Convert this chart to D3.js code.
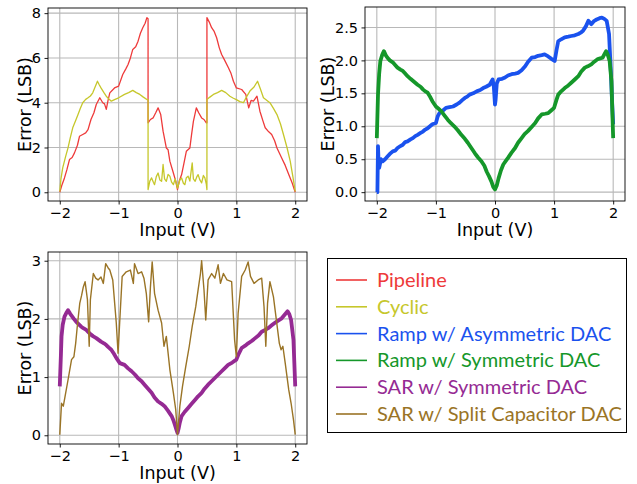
<!DOCTYPE html>
<html>
<head>
<meta charset="utf-8">
<script src="https://cdn.jsdelivr.net/npm/d3@7"></script>
<style>
  body { margin: 0; background: #fff; }
  text { font-family: "DejaVu Sans", sans-serif; }
</style>
</head>
<body>
<script>
// ---- data (x = input in V, y = error in LSB) ----
const xTicks = [-2, -1, 0, 1, 2];
const yTicksTop = [0, 2, 4, 6, 8];
const yTicksRamp = [0, 0.5, 1.0, 1.5, 2.0, 2.5];
const yTicksSar = [0, 1, 2, 3];

const pipeline = [[-2,0],[-1.96,0.35],[-1.92,0.64],[-1.88,1.0],[-1.835,1.46],[-1.79,1.55],[-1.75,1.76],[-1.7,2.1],[-1.665,2.5],[-1.61,2.58],[-1.56,2.65],[-1.52,2.8],[-1.47,3.25],[-1.42,3.55],[-1.38,3.92],[-1.32,4.22],[-1.27,4.0],[-1.24,3.95],[-1.21,3.7],[-1.18,4.1],[-1.15,4.44],[-1.07,4.66],[-1.0,4.74],[-0.93,5.26],[-0.88,5.5],[-0.84,5.71],[-0.8,6.0],[-0.76,6.38],[-0.71,6.5],[-0.67,6.75],[-0.63,7.1],[-0.59,7.35],[-0.55,7.55],[-0.52,7.8],[-0.5,7.75],[-0.5,3.1],[-0.46,3.25],[-0.415,3.32],[-0.37,3.55],[-0.33,3.77],[-0.285,3.47],[-0.245,2.73],[-0.19,1.98],[-0.16,1.9],[-0.13,1.39],[-0.07,0.86],[-0.03,0.5],[0,0.12],[0.03,0.5],[0.07,0.79],[0.11,1.3],[0.15,1.83],[0.21,1.98],[0.24,2.6],[0.27,3.17],[0.32,3.77],[0.36,3.55],[0.41,3.32],[0.45,3.25],[0.49,3.1],[0.5,3.1],[0.5,7.8],[0.54,7.6],[0.58,7.35],[0.62,7.2],[0.665,6.9],[0.71,6.45],[0.75,6.15],[0.8,5.9],[0.865,5.56],[0.91,5.3],[0.95,4.96],[1.0,4.66],[1.09,4.59],[1.16,4.37],[1.21,3.77],[1.25,4.1],[1.29,4.07],[1.35,4.29],[1.4,3.62],[1.45,3.2],[1.49,2.88],[1.55,2.7],[1.6,2.58],[1.65,2.3],[1.69,1.98],[1.73,1.75],[1.77,1.53],[1.83,1.2],[1.89,0.79],[1.95,0.4],[2.0,0]];

const cyclic = [[-2,0.04],[-1.98,0.6],[-1.95,1.09],[-1.9,1.6],[-1.86,1.98],[-1.82,2.45],[-1.78,2.88],[-1.73,3.2],[-1.69,3.47],[-1.65,3.75],[-1.61,4.0],[-1.56,4.15],[-1.52,4.22],[-1.48,4.3],[-1.44,4.44],[-1.4,4.7],[-1.36,4.96],[-1.33,4.8],[-1.3,4.66],[-1.25,4.45],[-1.21,4.29],[-1.16,4.15],[-1.125,4.07],[-1.06,4.15],[-1.0,4.22],[-0.9,4.37],[-0.83,4.45],[-0.76,4.55],[-0.7,4.45],[-0.64,4.37],[-0.58,4.25],[-0.52,4.14],[-0.5,4.14],[-0.5,0.12],[-0.47,0.5],[-0.44,0.64],[-0.41,0.45],[-0.39,0.34],[-0.36,0.7],[-0.33,0.86],[-0.3,0.55],[-0.27,0.49],[-0.245,1.24],[-0.22,0.6],[-0.19,0.49],[-0.16,0.8],[-0.13,0.72],[-0.1,0.45],[-0.07,0.34],[-0.04,0.6],[0,0.19],[0.04,0.55],[0.07,0.64],[0.1,0.4],[0.125,0.34],[0.15,0.65],[0.18,0.72],[0.21,0.5],[0.25,1.31],[0.27,0.6],[0.3,0.49],[0.33,0.7],[0.35,0.79],[0.38,0.55],[0.41,0.42],[0.44,0.75],[0.465,0.64],[0.49,0.35],[0.5,0.12],[0.5,4.14],[0.55,4.25],[0.61,4.37],[0.68,4.45],[0.75,4.55],[0.82,4.45],[0.89,4.29],[0.95,4.2],[1.0,4.14],[1.06,4.05],[1.12,4.0],[1.17,4.25],[1.23,4.52],[1.3,4.7],[1.36,4.96],[1.41,4.6],[1.46,4.22],[1.52,4.1],[1.57,4.0],[1.63,3.75],[1.69,3.47],[1.75,3.05],[1.8,2.58],[1.86,2.0],[1.915,1.39],[1.96,0.7],[2.0,0.04]];

const rampAsym = [[-2,0.0],[-1.99,0.0],[-1.98,0.7],[-1.97,0.45],[-1.96,0.37],[-1.93,0.5],[-1.9,0.47],[-1.86,0.5],[-1.82,0.54],[-1.78,0.58],[-1.73,0.62],[-1.69,0.63],[-1.65,0.67],[-1.6,0.7],[-1.56,0.72],[-1.52,0.76],[-1.48,0.77],[-1.43,0.8],[-1.39,0.82],[-1.35,0.85],[-1.31,0.87],[-1.26,0.9],[-1.22,0.92],[-1.18,0.95],[-1.14,0.97],[-1.1,1.0],[-1.06,1.03],[-1.0,1.05],[-0.97,1.15],[-0.94,1.2],[-0.88,1.24],[-0.83,1.28],[-0.77,1.29],[-0.71,1.3],[-0.65,1.33],[-0.6,1.36],[-0.55,1.4],[-0.51,1.43],[-0.47,1.45],[-0.43,1.48],[-0.37,1.5],[-0.31,1.53],[-0.25,1.55],[-0.2,1.58],[-0.15,1.6],[-0.09,1.63],[-0.04,1.71],[-0.02,1.6],[0,1.33],[0.01,1.4],[0.03,1.65],[0.06,1.71],[0.12,1.72],[0.17,1.74],[0.22,1.77],[0.28,1.79],[0.34,1.8],[0.39,1.81],[0.45,1.85],[0.51,1.91],[0.56,1.98],[0.62,2.04],[0.68,2.05],[0.73,2.07],[0.79,2.08],[0.84,2.09],[0.9,2.06],[0.96,2.02],[1.01,1.99],[1.04,2.15],[1.07,2.29],[1.12,2.32],[1.18,2.35],[1.24,2.36],[1.29,2.37],[1.35,2.38],[1.41,2.4],[1.45,2.42],[1.49,2.45],[1.54,2.52],[1.58,2.6],[1.63,2.55],[1.68,2.6],[1.72,2.62],[1.77,2.64],[1.81,2.65],[1.85,2.63],[1.89,2.6],[1.93,2.4],[1.96,1.84],[1.98,1.4],[2.0,1.03]];

const rampSym = [[-2,0.82],[-1.98,1.48],[-1.96,1.8],[-1.94,1.99],[-1.91,2.08],[-1.88,2.14],[-1.85,2.08],[-1.82,2.04],[-1.78,2.0],[-1.73,1.97],[-1.69,1.93],[-1.65,1.89],[-1.6,1.86],[-1.56,1.84],[-1.52,1.8],[-1.48,1.76],[-1.43,1.72],[-1.39,1.69],[-1.35,1.66],[-1.31,1.63],[-1.26,1.6],[-1.22,1.56],[-1.18,1.53],[-1.14,1.51],[-1.1,1.45],[-1.06,1.38],[-1.0,1.3],[-0.96,1.27],[-0.91,1.23],[-0.86,1.17],[-0.8,1.1],[-0.75,1.05],[-0.69,1.0],[-0.63,0.94],[-0.57,0.87],[-0.51,0.81],[-0.46,0.75],[-0.4,0.67],[-0.34,0.59],[-0.29,0.53],[-0.23,0.47],[-0.18,0.4],[-0.14,0.31],[-0.1,0.24],[-0.06,0.16],[-0.03,0.08],[0,0.04],[0.03,0.1],[0.06,0.21],[0.1,0.33],[0.14,0.42],[0.18,0.47],[0.22,0.52],[0.28,0.6],[0.34,0.67],[0.39,0.75],[0.45,0.82],[0.5,0.88],[0.56,0.93],[0.62,0.99],[0.68,1.05],[0.73,1.12],[0.79,1.18],[0.85,1.19],[0.9,1.2],[0.95,1.24],[1.0,1.28],[1.04,1.4],[1.07,1.48],[1.12,1.53],[1.18,1.58],[1.24,1.62],[1.29,1.66],[1.35,1.71],[1.41,1.76],[1.46,1.83],[1.52,1.89],[1.57,1.91],[1.63,1.94],[1.68,1.98],[1.74,2.02],[1.78,2.03],[1.82,2.04],[1.85,2.09],[1.88,2.14],[1.91,2.08],[1.94,1.99],[1.97,1.69],[1.99,1.1],[2.0,0.82]];

const sarSym = [[-2,0.84],[-1.98,1.4],[-1.97,1.7],[-1.95,1.9],[-1.92,2.04],[-1.89,2.1],[-1.86,2.15],[-1.83,2.1],[-1.81,2.07],[-1.76,2.0],[-1.72,1.95],[-1.68,1.91],[-1.64,1.87],[-1.6,1.84],[-1.55,1.81],[-1.51,1.77],[-1.47,1.73],[-1.43,1.7],[-1.38,1.67],[-1.34,1.64],[-1.3,1.61],[-1.25,1.58],[-1.21,1.55],[-1.17,1.51],[-1.125,1.47],[-1.08,1.4],[-1.04,1.33],[-0.98,1.24],[-0.9,1.21],[-0.84,1.15],[-0.78,1.1],[-0.72,1.04],[-0.67,0.98],[-0.61,0.93],[-0.56,0.87],[-0.5,0.8],[-0.44,0.73],[-0.39,0.65],[-0.33,0.58],[-0.27,0.54],[-0.22,0.5],[-0.16,0.42],[-0.1,0.33],[-0.07,0.26],[-0.045,0.18],[-0.02,0.1],[0,0.04],[0.02,0.12],[0.04,0.22],[0.07,0.33],[0.12,0.4],[0.18,0.47],[0.24,0.54],[0.3,0.61],[0.35,0.67],[0.41,0.73],[0.46,0.8],[0.52,0.87],[0.57,0.92],[0.63,0.98],[0.69,1.04],[0.75,1.1],[0.8,1.15],[0.86,1.21],[0.93,1.25],[1.0,1.3],[1.04,1.4],[1.09,1.5],[1.15,1.54],[1.2,1.58],[1.26,1.62],[1.32,1.67],[1.38,1.72],[1.43,1.78],[1.49,1.81],[1.54,1.84],[1.6,1.89],[1.65,1.93],[1.71,1.97],[1.77,2.01],[1.82,2.07],[1.87,2.13],[1.9,2.08],[1.93,1.98],[1.97,1.64],[2.0,0.84]];

const sarSplit = [[-2,0.01],[-1.97,0.55],[-1.94,0.5],[-1.91,0.67],[-1.86,0.95],[-1.8,1.3],[-1.76,1.35],[-1.73,1.58],[-1.7,1.9],[-1.66,2.27],[-1.63,2.4],[-1.6,2.55],[-1.57,2.64],[-1.53,2.33],[-1.5,1.53],[-1.48,2.33],[-1.43,2.78],[-1.39,2.7],[-1.35,2.67],[-1.3,2.72],[-1.26,2.61],[-1.22,2.95],[-1.18,2.88],[-1.15,2.84],[-1.1,2.67],[-1.04,1.93],[-1.01,1.41],[-0.98,1.98],[-0.94,2.73],[-0.87,2.81],[-0.8,2.84],[-0.75,2.61],[-0.73,2.95],[-0.67,2.78],[-0.61,2.81],[-0.57,2.7],[-0.53,2.44],[-0.49,1.95],[-0.46,2.55],[-0.43,2.98],[-0.39,2.44],[-0.33,2.15],[-0.27,1.93],[-0.23,1.53],[-0.19,1.7],[-0.13,1.13],[-0.07,0.73],[-0.03,0.44],[0,0.01],[0.04,0.5],[0.085,0.84],[0.14,1.18],[0.2,1.53],[0.25,1.87],[0.31,2.21],[0.35,2.5],[0.39,2.78],[0.41,3.0],[0.45,2.5],[0.48,1.98],[0.52,2.67],[0.58,2.78],[0.635,2.7],[0.69,2.93],[0.73,2.61],[0.78,2.78],[0.84,2.67],[0.92,2.64],[0.97,1.64],[1.0,1.35],[1.03,2.1],[1.09,2.73],[1.15,2.84],[1.2,2.98],[1.24,2.73],[1.3,2.61],[1.37,2.67],[1.43,2.7],[1.47,2.21],[1.5,1.53],[1.53,2.27],[1.57,2.64],[1.63,2.38],[1.68,1.98],[1.73,1.58],[1.76,1.47],[1.79,1.53],[1.83,1.24],[1.89,0.78],[1.93,0.55],[1.97,0.27],[2.0,0.01]];

const legendNames = ["Pipeline", "Cyclic", "Ramp w/ Asymmetric DAC", "Ramp w/ Symmetric DAC", "SAR w/ Symmetric DAC", "SAR w/ Split Capacitor DAC"];
const legendColors = ["#ee3a3a", "#c6c72b", "#1a52ee", "#15972a", "#952a93", "#9a7426"];

const width = 637, height = 484;
const svg = d3.select("body").append("svg")
    .attr("width", width)
    .attr("height", height);

function panel(box, yDomain, yTicks, yFmt, series, id) {
    var x = d3.scaleLinear().domain([-2.2, 2.2]).range([box.left, box.right]);
    var y = d3.scaleLinear().domain(yDomain).range([box.bottom, box.top]);

    svg.append("clipPath").attr("id", id)
        .append("rect")
        .attr("x", box.left).attr("y", box.top)
        .attr("width", box.right - box.left).attr("height", box.bottom - box.top);

    // grid
    var grid = svg.append("g").attr("stroke", "#b8b8b8").attr("stroke-width", 1.1);
    grid.selectAll(".gx").data(xTicks).enter().append("line")
        .attr("x1", d => x(d)).attr("x2", d => x(d))
        .attr("y1", box.top).attr("y2", box.bottom);
    grid.selectAll(".gy").data(yTicks).enter().append("line")
        .attr("x1", box.left).attr("x2", box.right)
        .attr("y1", d => y(d)).attr("y2", d => y(d));

    // curves
    var line = d3.line().x(d => x(d[0])).y(d => y(d[1]));
    var g = svg.append("g").attr("clip-path", `url(#${id})`);
    series.forEach(s => {
        g.append("path")
            .datum(s.data)
            .attr("d", line)
            .attr("fill", "none")
            .attr("stroke", s.color)
            .attr("stroke-width", s.w)
            .attr("stroke-linejoin", "round");
    });

    // axes
    var xAxis = d3.axisBottom(x).tickValues(xTicks).tickSize(3.5).tickPadding(3.5).tickFormat(d3.format("d"));
    var yAxis = d3.axisLeft(y).tickValues(yTicks).tickSize(3.5).tickPadding(3.5).tickFormat(yFmt);
    var gx = svg.append("g").attr("transform", `translate(0,${box.bottom})`).call(xAxis);
    var gy = svg.append("g").attr("transform", `translate(${box.left},0)`).call(yAxis);
    [gx, gy].forEach(a => {
        a.select(".domain").remove();
        a.selectAll("text").attr("font-family", "DejaVu Sans").attr("font-size", 14.5).attr("fill", "#000");
        a.selectAll("line").attr("stroke", "#000").attr("stroke-width", 0.9);
    });

    // frame
    svg.append("rect")
        .attr("x", box.left).attr("y", box.top)
        .attr("width", box.right - box.left).attr("height", box.bottom - box.top)
        .attr("fill", "none").attr("stroke", "#000").attr("stroke-width", 0.9);

    // labels
    svg.append("text")
        .attr("x", (box.left + box.right) / 2).attr("y", box.bottom + 35)
        .attr("text-anchor", "middle").attr("font-size", 17.5)
        .text("Input (V)");
    svg.append("text")
        .attr("transform", `translate(${box.left - box.labelOff},${(box.top + box.bottom) / 2}) rotate(-90)`)
        .attr("text-anchor", "middle").attr("font-size", 17.5)
        .text("Error (LSB)");
}

panel({ left: 48, right: 307, top: 8, bottom: 201, labelOff: 17 }, [-0.39, 8.23], yTicksTop, d3.format("d"), [
    { data: pipeline, color: legendColors[0], w: 1.3 },
    { data: cyclic, color: legendColors[1], w: 1.3 }
], "c1");

panel({ left: 365, right: 625, top: 7, bottom: 201, labelOff: 31 }, [-0.134, 2.81], yTicksRamp, d3.format(".1f"), [
    { data: rampAsym, color: legendColors[2], w: 3.8 },
    { data: rampSym, color: legendColors[3], w: 3.8 }
], "c2");

panel({ left: 48, right: 307, top: 252, bottom: 444, labelOff: 17 }, [-0.15, 3.15], yTicksSar, d3.format("d"), [
    { data: sarSym, color: legendColors[4], w: 3.8 },
    { data: sarSplit, color: legendColors[5], w: 1.4 }
], "c3");

// legend box
const legend = svg.append("g");
legend.append("rect")
    .attr("x", 327.5).attr("y", 258.5).attr("width", 299).attr("height", 174)
    .attr("fill", "#fff").attr("stroke", "#000").attr("stroke-width", 1);

const rowY = d3.scalePoint().domain(legendNames).range([280, 414]);
const rows = legend.selectAll(".row").data(legendNames).enter().append("g")
    .attr("transform", d => `translate(0,${rowY(d)})`);
rows.append("line")
    .attr("x1", 336).attr("x2", 367)
    .attr("stroke", (d, i) => legendColors[i]).attr("stroke-width", 1.6);
rows.append("text")
    .attr("x", 377).attr("y", 7)
    .attr("font-size", 20)
    .attr("fill", (d, i) => legendColors[i])
    .style("font-family", "Lato, sans-serif")
    .text(d => d);
</script>
</body>
</html>
